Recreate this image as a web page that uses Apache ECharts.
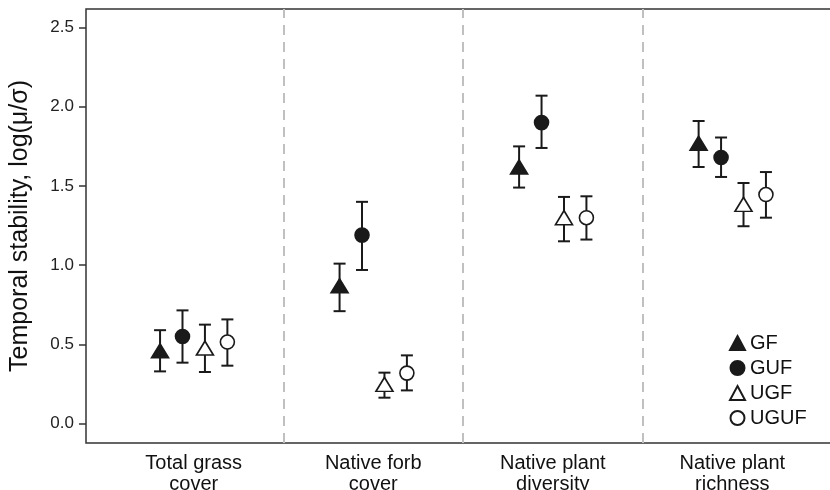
<!DOCTYPE html>
<html>
<head>
<meta charset="utf-8">
<script src="https://cdn.jsdelivr.net/npm/echarts@6/dist/echarts.min.js"></script>
<style>html,body{margin:0;padding:0;background:#fff;overflow:hidden;}#c{width:830px;height:490px;}</style>
</head>
<body>
<div id="c"></div>
<script>
const categories = ['Total grass\ncover', 'Native forb\ncover', 'Native plant\ndiversity', 'Native plant\nrichness'];
const groups = ['GF', 'GUF', 'UGF', 'UGUF'];
const yTicks = [0, 0.5, 1.0, 1.5, 2.0, 2.5];

const gfMean = [0.46, 0.87, 1.62, 1.77];
const gfLow = [0.33, 0.71, 1.49, 1.62];
const gfHigh = [0.59, 1.01, 1.75, 1.91];

const gufMean = [0.55, 1.19, 1.90, 1.68];
const gufLow = [0.385, 0.97, 1.74, 1.557];
const gufHigh = [0.715, 1.40, 2.07, 1.806];

const ugfMean = [0.477, 0.248, 1.30, 1.384];
const ugfLow = [0.326, 0.164, 1.151, 1.246];
const ugfHigh = [0.625, 0.322, 1.431, 1.519];

const ugufMean = [0.515, 0.319, 1.30, 1.446];
const ugufLow = [0.366, 0.21, 1.162, 1.30];
const ugufHigh = [0.658, 0.431, 1.435, 1.588];

const seriesData = [
  {mean: gfMean, low: gfLow, high: gfHigh},
  {mean: gufMean, low: gufLow, high: gufHigh},
  {mean: ugfMean, low: ugfLow, high: ugfHigh},
  {mean: ugufMean, low: ugufLow, high: ugufHigh}
];

const dodge = [-0.1875, -0.0625, 0.0625, 0.1875];
const ink = '#1a1a1a';
const font = 'Liberation Sans';
const symbols = [
  {symbol: 'triangle', size: [17, 14], fill: ink},
  {symbol: 'circle', size: 14, fill: ink},
  {symbol: 'triangle', size: [17, 14], fill: '#fff'},
  {symbol: 'circle', size: 14, fill: '#fff'}
];

const series = [];
groups.forEach((g, gi) => {
  const d = seriesData[gi];
  series.push({
    type: 'custom',
    name: g + '_err',
    z: 2,
    silent: true,
    data: categories.map((c, ci) => [ci + 1 + dodge[gi], d.low[ci], d.high[ci]]),
    renderItem: function (params, api) {
      const x = api.value(0);
      const lo = api.coord([x, api.value(1)]);
      const hi = api.coord([x, api.value(2)]);
      const hw = 6;
      const st = {stroke: ink, lineWidth: 2, fill: null};
      return {
        type: 'group',
        children: [
          {type: 'line', shape: {x1: lo[0], y1: lo[1], x2: hi[0], y2: hi[1]}, style: st},
          {type: 'line', shape: {x1: lo[0] - hw, y1: lo[1], x2: lo[0] + hw, y2: lo[1]}, style: st},
          {type: 'line', shape: {x1: hi[0] - hw, y1: hi[1], x2: hi[0] + hw, y2: hi[1]}, style: st}
        ]
      };
    },
    markLine: gi === 0 ? {
      silent: true,
      symbol: 'none',
      label: {show: false},
      lineStyle: {color: '#c0c0c0', width: 2, type: [10, 7]},
      data: [{xAxis: 1.5}, {xAxis: 2.5}, {xAxis: 3.5}]
    } : undefined
  });
  series.push({
    type: 'scatter',
    name: g,
    z: 3,
    symbol: symbols[gi].symbol,
    symbolSize: symbols[gi].size,
    itemStyle: {color: symbols[gi].fill, borderColor: ink, borderWidth: 1.6, opacity: 1},
    data: categories.map((c, ci) => [ci + 1 + dodge[gi], d.mean[ci]])
  });
});

const chart = echarts.init(document.getElementById('c'), null, {renderer: 'canvas'});
chart.setOption({
  animation: false,
  backgroundColor: '#fff',
  grid: {
    left: 86, width: 754, top: 9, height: 434,
    outerBoundsMode: 'none', containLabel: false,
    show: true, borderColor: '#333', borderWidth: 1.5, backgroundColor: 'transparent'
  },
  legend: {
    data: groups,
    orient: 'vertical',
    left: 724,
    top: 328,
    itemWidth: 15,
    itemHeight: 14,
    itemGap: 5,
    textStyle: {fontSize: 20, color: '#111', fontFamily: font},
    selectedMode: false
  },
  xAxis: {
    type: 'value',
    min: 0.4,
    max: 4.6,
    splitLine: {show: false},
    axisLine: {show: false},
    axisTick: {show: false},
    axisLabel: {
      customValues: [1, 2, 3, 4],
      formatter: v => categories[Math.round(v) - 1],
      fontSize: 20,
      lineHeight: 21,
      color: '#111',
      margin: 10,
      fontFamily: font
    }
  },
  yAxis: {
    type: 'value',
    min: -0.122,
    max: 2.617,
    name: 'Temporal stability, log(\u03bc/\u03c3)',
    nameLocation: 'middle',
    nameGap: 53,
    nameTextStyle: {fontSize: 25, color: '#111', fontFamily: font},
    splitLine: {show: false},
    axisLine: {show: false},
    axisTick: {show: true, customValues: yTicks, length: 7, lineStyle: {color: '#333', width: 1.5}},
    axisLabel: {
      customValues: yTicks,
      formatter: v => v.toFixed(1),
      fontSize: 17,
      color: '#222',
      margin: 12,
      fontFamily: font
    }
  },
  series: series
});
</script>
</body>
</html>
